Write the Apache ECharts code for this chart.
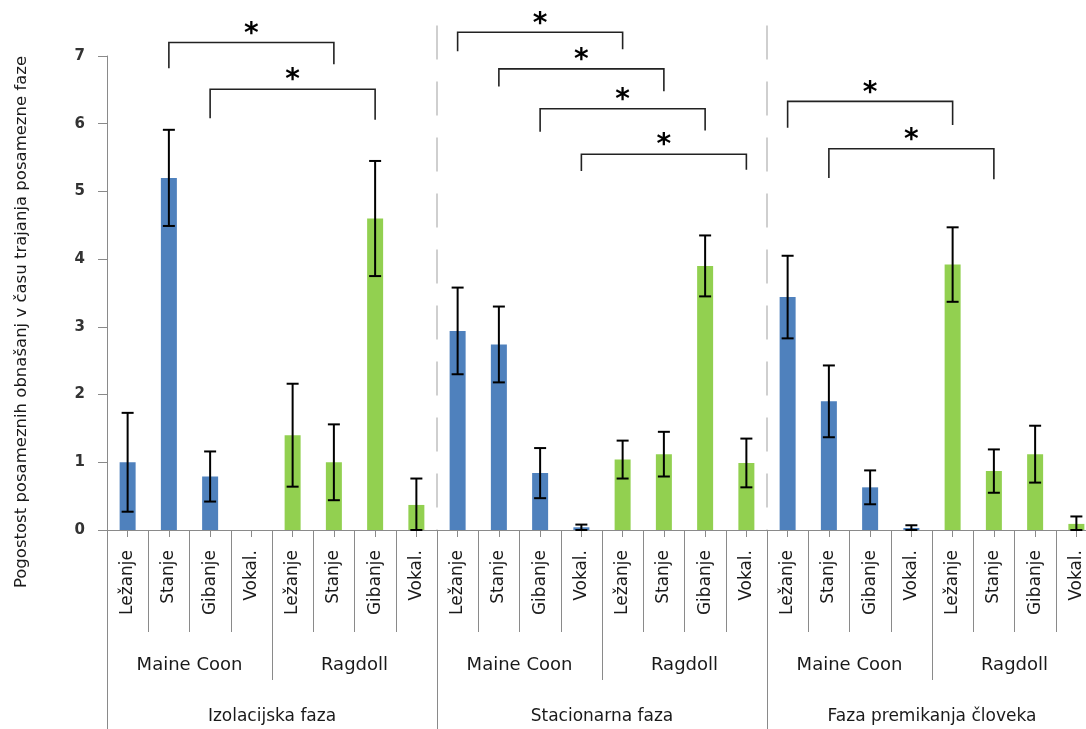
<!DOCTYPE html>
<html><head><meta charset="utf-8">
<script src="https://cdn.jsdelivr.net/npm/echarts@6/dist/echarts.min.js"></script>
<style>html,body{margin:0;padding:0;background:#fff;overflow:hidden}#c{width:1100px;height:729px}</style>
</head><body><div id="c"></div>
<script>
// ---- data ----
const behaviours = ['Ležanje', 'Stanje', 'Gibanje', 'Vokal.'];
const breeds = ['Maine Coon', 'Ragdoll'];
const phases = ['Izolacijska faza', 'Stacionarna faza', 'Faza premikanja človeka'];
const yTicks = [0, 1, 2, 3, 4, 5, 6, 7];

// means per phase: Maine Coon (4 behaviours) then Ragdoll (4 behaviours)
const izolacijskaMean = [1.0, 5.2, 0.79, 0, 1.4, 1.0, 4.6, 0.37];
const izolacijskaErr  = [0.73, 0.71, 0.37, 0, 0.76, 0.56, 0.85, 0.39];
const stacionarnaMean = [2.94, 2.74, 0.84, 0.04, 1.04, 1.12, 3.9, 0.99];
const stacionarnaErr  = [0.64, 0.56, 0.37, 0.04, 0.28, 0.33, 0.45, 0.36];
const premikanjeMean  = [3.44, 1.9, 0.63, 0.03, 3.92, 0.87, 1.12, 0.09];
const premikanjeErr   = [0.61, 0.53, 0.25, 0.04, 0.55, 0.32, 0.42, 0.11];

// significance brackets: [left category, right category, bar level, left leg end, right leg end]
const brackets = [
  [1, 5, 7.2, 6.82, 6.88],
  [2, 6, 6.51, 6.08, 6.06],
  [8, 12, 7.35, 7.07, 7.10],
  [9, 13, 6.81, 6.55, 6.48],
  [10, 14, 6.22, 5.88, 5.90],
  [11, 15, 5.55, 5.30, 5.32],
  [16, 20, 6.33, 5.94, 5.98],
  [17, 21, 5.63, 5.20, 5.18]
];
// phase separators between these neighbouring categories
const separators = [[7, 8], [15, 16]];

// ---- build ----
const means = [].concat(izolacijskaMean, stacionarnaMean, premikanjeMean);
const errs = [].concat(izolacijskaErr, stacionarnaErr, premikanjeErr);
const cats = [];
phases.forEach(() => breeds.forEach(() => behaviours.forEach(b => cats.push(b))));
const breedCats = [];
phases.forEach(() => breeds.forEach(b => breedCats.push(b)));

const BLUE = '#4F81BD', GREEN = '#92D050', AX = '#8a8a8a';
const barData = means.map((v, i) => ({
  value: v,
  itemStyle: { color: Math.floor(i / 4) % 2 === 0 ? BLUE : GREEN }
}));
const errData = [];
means.forEach((v, i) => {
  if (errs[i] > 0) errData.push([i, Math.max(0, v - errs[i]), v + errs[i]]);
});

const FONT = 'DejaVu Sans';
const chart = echarts.init(document.getElementById('c'), null, { renderer: 'canvas' });

function catAxis(data, tickLen, opts) {
  return Object.assign({
    type: 'category', data: data, position: 'bottom', gridIndex: 0,
    axisLine: { show: false },
    axisTick: { show: true, interval: 0, length: tickLen, lineStyle: { color: AX, width: 1 } },
    axisLabel: { show: false },
    splitLine: { show: false }
  }, opts || {});
}

chart.setOption({
  animation: false,
  backgroundColor: '#ffffff',
  grid: { left: 107, top: 56, width: 990, height: 474, containLabel: false },
  xAxis: [
    catAxis(cats, 7, {
      axisLine: { show: true, lineStyle: { color: AX, width: 1 } },
      axisTick: { show: true, interval: 0, alignWithLabel: true, length: 7, lineStyle: { color: AX } },
      axisLabel: { show: true, interval: 0, rotate: 90, margin: 20, fontFamily: FONT, fontSize: 17, color: '#1a1a1a' }
    }),
    catAxis(cats, 102),
    catAxis(breedCats, 150, {
      axisLabel: { show: true, interval: 0, margin: 126, fontFamily: FONT, fontSize: 18, color: '#1a1a1a' }
    }),
    catAxis(phases, 199, {
      axisLabel: { show: true, interval: 0, margin: 178, fontFamily: FONT, fontSize: 17, color: '#1a1a1a' }
    })
  ],
  yAxis: {
    type: 'value', min: yTicks[0], max: yTicks[yTicks.length - 1], interval: 1,
    axisLine: { show: true, lineStyle: { color: AX, width: 1 } },
    axisTick: { show: true, length: 9, lineStyle: { color: AX } },
    axisLabel: { margin: 22, fontFamily: FONT, fontWeight: 'bold', fontSize: 15, color: '#333' },
    splitLine: { show: false }
  },
  graphic: [{
    type: 'text', x: 22, y: 322, rotation: Math.PI / 2,
    style: { text: 'Pogostost posameznih obnašanj v času trajanja posamezne faze',
      fontFamily: FONT, fontSize: 16.5, fill: '#1a1a1a', align: 'center', verticalAlign: 'middle' }
  }],
  series: [
    {
      type: 'custom', name: 'sep', xAxisIndex: 0, clip: false, silent: true, z: 1,
      data: separators,
      renderItem: function (params, api) {
        const a = api.coord([api.value(0), 0]);
        const b = api.coord([api.value(1), 0]);
        const x = (a[0] + b[0]) / 2;
        const top = api.coord([api.value(0), 7.45]);
        return { type: 'line', shape: { x1: x, y1: top[1], x2: x, y2: a[1] },
          style: { stroke: '#cfcfcf', lineWidth: 2, lineDash: [34, 22] } };
      }
    },
    {
      type: 'bar', name: 'mean', xAxisIndex: 0, barWidth: 16, data: barData, z: 2
    },
    {
      type: 'custom', name: 'err', xAxisIndex: 0, clip: false, z: 3,
      data: errData,
      renderItem: function (params, api) {
        const i = api.value(0);
        const lo = api.coord([i, api.value(1)]);
        const hi = api.coord([i, api.value(2)]);
        const h = 6;
        const st = { stroke: '#000', lineWidth: 2 };
        return { type: 'group', children: [
          { type: 'line', shape: { x1: hi[0], y1: hi[1], x2: lo[0], y2: lo[1] }, style: st },
          { type: 'line', shape: { x1: hi[0] - h, y1: hi[1], x2: hi[0] + h, y2: hi[1] }, style: st },
          { type: 'line', shape: { x1: lo[0] - h, y1: lo[1], x2: lo[0] + h, y2: lo[1] }, style: st }
        ] };
      }
    },
    {
      type: 'custom', name: 'sig', xAxisIndex: 0, clip: false, z: 4,
      data: brackets,
      renderItem: function (params, api) {
        const l = api.value(0), r = api.value(1);
        const pl0 = api.coord([l, api.value(3)]);
        const pl1 = api.coord([l, api.value(2)]);
        const pr1 = api.coord([r, api.value(2)]);
        const pr0 = api.coord([r, api.value(4)]);
        return { type: 'group', children: [
          { type: 'polyline', shape: { points: [pl0, pl1, pr1, pr0] },
            style: { stroke: '#222', lineWidth: 1.6, fill: null } },
          { type: 'text', x: (pl1[0] + pr1[0]) / 2, y: pl1[1] - 8,
            style: { text: '*', fontFamily: FONT, fontWeight: 'bold', fontSize: 28, fill: '#000',
              align: 'center', verticalAlign: 'middle' } }
        ] };
      }
    }
  ]
});
</script>
</body></html>
